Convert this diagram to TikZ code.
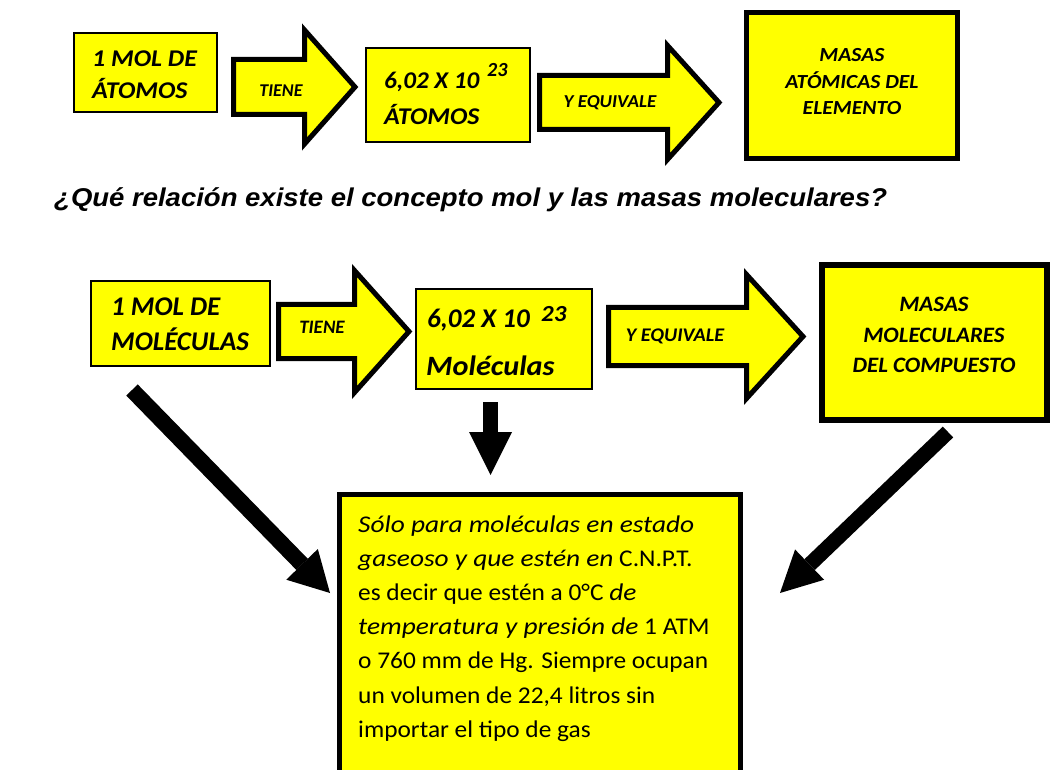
\documentclass[tikz,border=0pt]{standalone}
\usepackage{fontspec}
\setmainfont{Carlito}
\newfontfamily\headfont[FakeStretch=1.07]{Liberation Sans}
\newfontfamily\sA[FakeStretch=1.045]{Carlito}
\newfontfamily\sB[FakeStretch=1.08]{Carlito}
\newfontfamily\bodyrm[FakeStretch=1.057]{Carlito}
\newfontfamily\bodyit[FakeStretch=1.14]{Carlito}
\usetikzlibrary{arrows.meta}
\definecolor{yel}{RGB}{255,255,0}
\begin{document}
\begin{tikzpicture}[x=1pt,y=-1pt,
  box/.style={draw=black, fill=yel, line width=#1, inner sep=0pt, line join=miter},
  blockarrow/.style={draw=black, fill=yel, line width=5pt, line join=miter, miter limit=10},
  bigtxt/.style={inner sep=0pt, font=\fontsize{#1}{#1}\selectfont\bfseries\itshape},
  body/.style={inner sep=0pt, anchor=base west, font=\bodyrm\fontsize{24}{24}\selectfont},
  fatarrow/.style={line width=#1, draw=black},
]
\newcommand\itx[1]{{\bodyit\itshape #1}}
\useasboundingbox (0,0) rectangle (1061,770);
\clip (0,0) rectangle (1061,770);

% ---------- top row ----------
\node[box=2pt, minimum width=143pt, minimum height=79pt] (b1) at (145.5,72.5) {};
\node[bigtxt=24, anchor=base west] (b1a) at (92,67) {\sB 1 MOL DE};
\node[bigtxt=24, anchor=base west] (b1b) at (92,99) {\sB ÁTOMOS};

\draw[blockarrow] (233.5,59.5) -- (304.5,59.5) -- (304.5,30) -- (355,87) -- (304.5,144) -- (304.5,114.5) -- (233.5,114.5) -- cycle;
\node[bigtxt=18] (a1) at (281,91) {TIENE};

\node[box=2pt, minimum width=164pt, minimum height=94pt] (b2) at (448,95) {};
\node[bigtxt=24, anchor=base west] (b2a) at (384,89) {\sA 6,02 X 10};
\node[bigtxt=20, anchor=base west] (b2s) at (487,77) {23};
\node[bigtxt=24, anchor=base west] (b2b) at (384,125) {\sB ÁTOMOS};

\draw[blockarrow] (539.5,75.5) -- (667.5,75.5) -- (667.5,45.5) -- (719,102.5) -- (667.5,159.5) -- (667.5,129.5) -- (539.5,129.5) -- cycle;
\node[bigtxt=18.2] (a2) at (610,103) {\sA Y EQUIVALE};

\node[box=5pt, minimum width=211pt, minimum height=146pt] (b3) at (852,85.5) {};
\node[bigtxt=20, anchor=base] (b3a) at (852,61.7) {\sB MASAS};
\node[bigtxt=20, anchor=base] (b3b) at (852,88.3) {\sB ATÓMICAS DEL};
\node[bigtxt=20, anchor=base] (b3c) at (852,115) {\sB ELEMENTO};

% ---------- heading ----------
\node[inner sep=0pt, anchor=base west, font=\headfont\fontsize{25.7}{25.7}\selectfont\bfseries\itshape] (h) at (54,206.5) {¿Qué relación existe el concepto mol y las masas moleculares?};

% ---------- middle row ----------
\node[box=2.5pt, minimum width=179pt, minimum height=85pt] (b4) at (180.5,323.5) {};
\node[bigtxt=27, anchor=base west] (b4a) at (111,316) {1 MOL DE};
\node[bigtxt=27, anchor=base west] (b4b) at (111,350) {MOLÉCULAS};

\draw[blockarrow] (278.5,304.5) -- (354.5,304.5) -- (354.5,270.5) -- (409,331.5) -- (354.5,392.5) -- (354.5,358.5) -- (278.5,358.5) -- cycle;
\node[bigtxt=19] (a3) at (322,327) {TIENE};

\node[box=2.5pt, minimum width=176pt, minimum height=100pt] (b5) at (504,339) {};
\node[bigtxt=27, anchor=base west] (b5a) at (427,327) {6,02 X 10};
\node[bigtxt=23, anchor=base west] (b5s) at (541,321.5) {\sB 23};
\node[bigtxt=28, anchor=base west] (b5b) at (426,375) {\sB Moléculas};

\draw[blockarrow] (608.5,307.5) -- (746.5,307.5) -- (746.5,274.5) -- (803,336.5) -- (746.5,398.5) -- (746.5,365.5) -- (608.5,365.5) -- cycle;
\node[bigtxt=19.3] (a4) at (675,336) {\sA Y EQUIVALE};

\node[box=6pt, minimum width=225pt, minimum height=155pt] (b6) at (934.5,342.5) {};
\node[bigtxt=22, anchor=base] (b6a) at (934,312) {\sA MASAS};
\node[bigtxt=22, anchor=base] (b6b) at (934,342) {\sA MOLECULARES};
\node[bigtxt=22, anchor=base] (b6c) at (934,372) {\sA DEL COMPUESTO};

% ---------- bottom box ----------
\node[box=5pt, minimum width=401pt, minimum height=305pt] (b7) at (540,647) {};
\node[body] (l1) at (358,532) {\itx{Sólo para moléculas en estado}};
\node[body] (l2) at (358,566.2) {\itx{gaseoso y que estén en} C.N.P.T.};
\node[body] (l3) at (358,600.4) {es decir que estén a 0°C \itx{de}};
\node[body] (l4) at (358,634.6) {\itx{temperatura y presión de} 1 ATM};
\node[body] (l5) at (358,668.8) {o 760 mm de Hg. Siempre ocupan};
\node[body] (l6) at (358,703) {un volumen de 22,4 litros sin};
\node[body] (l7) at (358,737) {importar el tipo de gas};

% ---------- fat arrows ----------
\coordinate (p1s) at (132,390);
\coordinate (p1e) at (330,593);
\coordinate (p2s) at (490.5,402);
\coordinate (p2e) at (490.5,475);
\coordinate (p3s) at (948,432);
\coordinate (p3e) at (780,593);
\draw[fatarrow=16pt, -{Triangle[width=44pt,length=40pt,line width=0pt]}] (p1s) -- (p1e);
\draw[fatarrow=15pt, -{Triangle[width=43pt,length=43pt,line width=0pt]}] (p2s) -- (p2e);
\draw[fatarrow=15pt, -{Triangle[width=42pt,length=41pt,line width=0pt]}] (p3s) -- (p3e);
\end{tikzpicture}
\end{document}
